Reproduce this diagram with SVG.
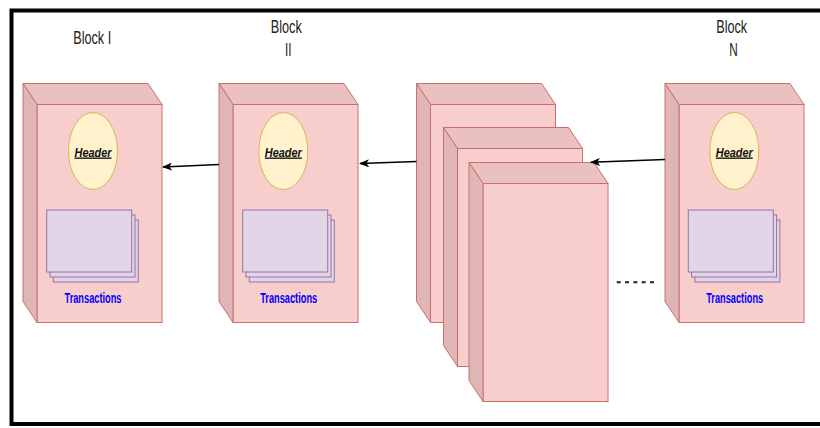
<svg xmlns="http://www.w3.org/2000/svg" xmlns:xlink="http://www.w3.org/1999/xlink" width="820" height="428" viewBox="0 0 820 428">
<style>
.front{fill:#f8cecc;stroke:#c8706c;stroke-width:1}
.top{fill:#eac1c0;stroke:#c8706c;stroke-width:1}
.side{fill:#dfb6b5;stroke:#c8706c;stroke-width:1}
.hdr{fill:#fff2cc;stroke:#d6b656;stroke-width:1}
.tx{fill:#e1d5e7;stroke:#9673a6;stroke-width:1}
.lbl{font-family:"Liberation Sans",Arial,sans-serif;font-size:18px;fill:#222;text-anchor:middle}
.htxt{font-family:"Liberation Sans",Arial,sans-serif;font-size:13.5px;font-weight:bold;font-style:italic;text-decoration:underline;fill:#111;text-anchor:middle}
.ttxt{font-family:"Liberation Sans",Arial,sans-serif;font-size:14px;font-weight:bold;fill:#0000ff;text-anchor:middle}
.conn{stroke:#000;stroke-width:1.6;fill:none}
</style>
<defs>
<g id="cube">
<rect class="front" x="14" y="21" width="125" height="218"/>
<path class="top" d="M0,0 L125,0 L139,21 L14,21 Z"/>
<path class="side" d="M0,0 L14,21 L14,239 L0,218 Z"/>
</g>
<g id="txstack">
<rect class="tx" x="6.6" y="10" width="85" height="62"/>
<rect class="tx" x="3.3" y="5" width="85" height="62"/>
<rect class="tx" x="0" y="0" width="85" height="62"/>
</g>
<marker id="arr" markerWidth="10" markerHeight="8" refX="9" refY="4" orient="auto" markerUnits="userSpaceOnUse">
<path d="M0,0 L10,4 L0,8 L2.5,4 Z" fill="#000"/>
</marker>
</defs>
<rect x="11.5" y="10.5" width="830" height="413.5" fill="#fff" stroke="#000" stroke-width="4"/>

<g id="block1">
<use xlink:href="#cube" x="23" y="83.5"/>
<ellipse class="hdr" cx="93" cy="151" rx="24.5" ry="38.5"/>
<text class="htxt" x="93" y="156.5" textLength="37" lengthAdjust="spacingAndGlyphs">Header</text>
<use xlink:href="#txstack" x="46.7" y="210"/>
<text class="ttxt" x="93" y="303" textLength="57" lengthAdjust="spacingAndGlyphs">Transactions</text>
</g>
<g id="block2">
<use xlink:href="#cube" x="219" y="83.5"/>
<ellipse class="hdr" cx="283.3" cy="151" rx="24.5" ry="38.5"/>
<text class="htxt" x="283.3" y="156.5" textLength="37" lengthAdjust="spacingAndGlyphs">Header</text>
<use xlink:href="#txstack" x="242.7" y="210"/>
<text class="ttxt" x="288.7" y="303" textLength="57" lengthAdjust="spacingAndGlyphs">Transactions</text>
</g>
<g id="stack1">
<use xlink:href="#cube" x="416.5" y="83.5"/>
</g>
<g id="stack2">
<use xlink:href="#cube" x="443.5" y="127.5"/>
</g>
<g id="stack3">
<use xlink:href="#cube" x="469" y="162.5"/>
</g>
<g id="blockN">
<use xlink:href="#cube" x="665" y="83.5"/>
<ellipse class="hdr" cx="734.3" cy="151" rx="24.5" ry="38.5"/>
<text class="htxt" x="734.3" y="156.5" textLength="37" lengthAdjust="spacingAndGlyphs">Header</text>
<use xlink:href="#txstack" x="688.3" y="210"/>
<text class="ttxt" x="734.7" y="303" textLength="57" lengthAdjust="spacingAndGlyphs">Transactions</text>
</g>

<g id="labels">
<text class="lbl" x="92.2" y="44" textLength="38" lengthAdjust="spacingAndGlyphs">Block I</text>
<text class="lbl" x="286.3" y="33" textLength="31" lengthAdjust="spacingAndGlyphs">Block</text>
<text class="lbl" x="288.3" y="56" textLength="6.5" lengthAdjust="spacingAndGlyphs">II</text>
<text class="lbl" x="731.7" y="32.5" textLength="31" lengthAdjust="spacingAndGlyphs">Block</text>
<text class="lbl" x="733.5" y="56" textLength="8.5" lengthAdjust="spacingAndGlyphs">N</text>
</g>

<g id="connectors">
<line class="conn" x1="219" y1="164.5" x2="163" y2="167" marker-end="url(#arr)"/>
<line class="conn" x1="416.5" y1="161.5" x2="360" y2="163.5" marker-end="url(#arr)"/>
<line class="conn" x1="665" y1="159.5" x2="591" y2="162.3" marker-end="url(#arr)"/>
</g>
<line x1="616.7" y1="282.3" x2="654" y2="282.3" stroke="#222" stroke-width="2" stroke-dasharray="4 4.33"/>
</svg>
